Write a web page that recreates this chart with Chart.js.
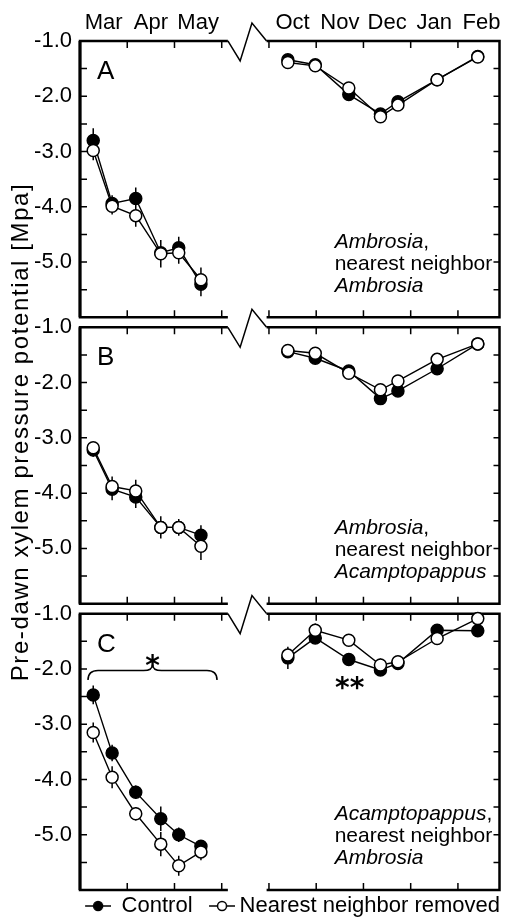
<!DOCTYPE html>
<html>
<head>
<meta charset="utf-8">
<script src="https://cdn.jsdelivr.net/npm/chart.js@4.4.0/dist/chart.umd.min.js"></script>
<style>
  html, body { margin: 0; padding: 0; background: #fff; }
</style>
</head>
<body>
<canvas id="xylemChart" width="507" height="920"></canvas>
<script>
// -------------------- Data --------------------
// sampling dates, months after 1 Mar (spring) and after 1 Oct (winter)
const springMonths = [0.28, 0.68, 1.18, 1.71, 2.09, 2.56];
const winterMonths = [0.40, 0.98, 1.69, 2.36, 2.73, 3.56, 4.42];

const monthLabels = ['Mar', 'Apr', 'May', 'Oct', 'Nov', 'Dec', 'Jan', 'Feb'];
const monthCenters = [0.5, 1.5, 2.5, 4.5, 5.5, 6.5, 7.5, 8.5];
const monthStarts = [1, 2, 3, 4, 5, 6, 7, 8];
const yTickValues = [-6, -5.5, -5, -4.5, -4, -3.5, -3, -2.5, -2, -1.5, -1];

const panelLetters = ['A', 'B', 'C'];
const panelSpecies = ['Ambrosia', 'Ambrosia', 'Acamptopappus'];
const neighborSpecies = ['Ambrosia', 'Acamptopappus', 'Ambrosia'];

// Panel A
const aControlSpring = [-2.80, -3.94, -3.85, -4.83, -4.74, -5.40];
const aRemovedSpring = [-2.98, -3.99, -4.16, -4.85, -4.83, -5.32];
const aControlWinter = [-1.34, -1.43, -1.97, -2.32, -2.10, -1.70, -1.28];
const aRemovedWinter = [-1.39, -1.45, -1.85, -2.37, -2.16, -1.70, -1.29];
const aControlSpringSe = [0.22, 0.15, 0.20, 0.22, 0.20, 0.22];
const aRemovedSpringSe = [0.18, 0.15, 0.20, 0.25, 0.20, 0.22];
const aControlWinterSe = [0.05, 0.05, 0.06, 0.06, 0.06, 0.05, 0.05];
const aRemovedWinterSe = [0.05, 0.05, 0.06, 0.06, 0.06, 0.05, 0.05];

// Panel B
const bControlSpring = [-3.22, -3.93, -4.07, -4.62, -4.62, -4.76];
const bRemovedSpring = [-3.18, -3.88, -3.96, -4.62, -4.62, -4.96];
const bControlWinter = [-1.44, -1.56, -1.79, -2.29, -2.15, -1.75, -1.30];
const bRemovedWinter = [-1.42, -1.47, -1.83, -2.13, -1.97, -1.58, -1.30];
const bControlSpringSe = [0.12, 0.20, 0.20, 0.20, 0.15, 0.18];
const bRemovedSpringSe = [0.10, 0.18, 0.20, 0.20, 0.15, 0.25];
const bControlWinterSe = [0.05, 0.05, 0.05, 0.06, 0.06, 0.06, 0.05];
const bRemovedWinterSe = [0.05, 0.05, 0.05, 0.06, 0.06, 0.06, 0.05];

// Panel C
const cControlSpring = [-2.47, -3.52, -4.23, -4.71, -5.00, -5.21];
const cRemovedSpring = [-3.15, -3.96, -4.62, -5.17, -5.56, -5.31];
const cControlWinter = [-1.80, -1.44, -1.83, -2.02, -1.90, -1.30, -1.31];
const cRemovedWinter = [-1.75, -1.30, -1.48, -1.93, -1.87, -1.45, -1.09];
const cControlSpringSe = [0.17, 0.15, 0.12, 0.22, 0.13, 0.10];
const cRemovedSpringSe = [0.18, 0.20, 0.12, 0.22, 0.18, 0.15];
const cControlWinterSe = [0.20, 0.10, 0.06, 0.08, 0.06, 0.06, 0.08];
const cRemovedWinterSe = [0.15, 0.12, 0.06, 0.12, 0.06, 0.06, 0.06];

const yTitle = 'Pre-dawn xylem pressure potential [Mpa]';

// -------------------- Helpers --------------------
const FONT = "'Liberation Sans', Arial, Helvetica, sans-serif";
const WINTER_SHIFT = 4;   // 1 Oct sits 4 months right of 1 Mar on the broken axis
const X_MAX = 8.88;
const panelIds = ['yA', 'yB', 'yC'];

Chart.defaults.font.family = FONT;
Chart.defaults.color = '#000';

function toPoints(spring, winter) {
  return spring.map((v, i) => ({ x: springMonths[i], y: v }))
    .concat([{ x: 3.5, y: null }])
    .concat(winter.map((v, i) => ({ x: WINTER_SHIFT + winterMonths[i], y: v })));
}

function series(label, axis, filled, spring, winter, seSpring, seWinter) {
  return {
    label,
    xAxisID: 'x',
    yAxisID: axis,
    data: toPoints(spring, winter),
    err: seSpring.concat([null], seWinter),
    borderColor: '#000',
    borderWidth: 1.4,
    pointRadius: 6,
    pointHoverRadius: 6,
    pointBorderWidth: 1.5,
    pointBorderColor: '#000',
    pointBackgroundColor: filled ? '#000' : '#fff',
    spanGaps: false,
    tension: 0,
    order: filled ? 1 : 0
  };
}

function yAxis() {
  return {
    type: 'linear',
    position: 'left',
    stack: 'panels',
    stackWeight: 1,
    min: -6.09,
    max: -0.91,
    grid: { display: false, drawTicks: false },
    border: { display: false },
    afterBuildTicks: s => { s.ticks = yTickValues.map(v => ({ value: v })); },
    afterFit: s => { s.width = 80; },
    ticks: {
      padding: 8,
      font: { size: 22 },
      color: '#000',
      callback: v => (Number.isInteger(v) && v > -6) ? v.toFixed(1) : ''
    }
  };
}

function legendSymbol(filled, shift) {
  const c = document.createElement('canvas');
  c.width = 26 + 2 * shift;
  c.height = 14;
  const g = c.getContext('2d');
  const cx = c.width / 2 + shift;
  g.strokeStyle = '#000';
  g.lineWidth = 1.5;
  g.beginPath(); g.moveTo(cx - 13, 7); g.lineTo(cx + 13, 7); g.stroke();
  g.beginPath(); g.arc(cx, 7, 4.5, 0, Math.PI * 2);
  g.fillStyle = filled ? '#000' : '#fff';
  g.fill(); g.stroke();
  return c;
}

// -------------------- Frames, ticks, error bars --------------------
const panelFrames = {
  id: 'panelFrames',
  beforeDatasetsDraw(chart) {
    const { ctx } = chart;
    const x = chart.scales.x;
    const left = x.getPixelForValue(0), right = x.getPixelForValue(X_MAX);
    const bL = x.getPixelForValue(3.13), bR = x.getPixelForValue(3.95);
    const z1 = x.getPixelForValue(3.39), z2 = x.getPixelForValue(3.64);
    ctx.save();
    ctx.strokeStyle = '#000';
    ctx.lineJoin = 'miter';

    panelIds.forEach(id => {
      const y = chart.scales[id];
      const top = y.getPixelForValue(-1), bot = y.getPixelForValue(-6);

      ctx.lineWidth = 2.5;
      ctx.beginPath();
      ctx.moveTo(bL, top); ctx.lineTo(left, top); ctx.lineTo(left, bot); ctx.lineTo(bL, bot);
      ctx.moveTo(bR, bot); ctx.lineTo(right, bot); ctx.lineTo(right, top); ctx.lineTo(bR, top);
      ctx.stroke();

      ctx.lineWidth = 3;
      ctx.beginPath(); ctx.moveTo(left, top); ctx.lineTo(left, bot); ctx.stroke();

      // axis break
      ctx.lineWidth = 1.5;
      ctx.beginPath();
      ctx.moveTo(bL, top); ctx.lineTo(z1, top + 20); ctx.lineTo(z2, top - 18); ctx.lineTo(bR, top);
      ctx.stroke();

      // inward ticks
      ctx.beginPath();
      yTickValues.forEach(v => {
        if (v === -1 || v === -6) return;
        const py = y.getPixelForValue(v);
        ctx.moveTo(left, py); ctx.lineTo(left + 7, py);
        ctx.moveTo(right, py); ctx.lineTo(right - 6, py);
      });
      monthStarts.forEach(v => {
        const px = x.getPixelForValue(v);
        ctx.moveTo(px, top); ctx.lineTo(px, top + 7);
        ctx.moveTo(px, bot); ctx.lineTo(px, bot - 7);
      });
      ctx.stroke();
    });

    // error bars
    ctx.lineWidth = 1.5;
    ctx.beginPath();
    chart.data.datasets.forEach(ds => {
      const y = chart.scales[ds.yAxisID];
      ds.data.forEach((p, j) => {
        if (p.y == null || !ds.err[j]) return;
        const px = x.getPixelForValue(p.x);
        ctx.moveTo(px, y.getPixelForValue(p.y + ds.err[j]));
        ctx.lineTo(px, y.getPixelForValue(p.y - ds.err[j]));
      });
    });
    ctx.stroke();
    ctx.restore();
  }
};

// -------------------- Letters, notes, brace, title --------------------
const panelNotes = {
  id: 'panelNotes',
  afterDatasetsDraw(chart) {
    const { ctx } = chart;
    const x = chart.scales.x;
    ctx.save();
    ctx.fillStyle = '#000';
    ctx.strokeStyle = '#000';

    panelIds.forEach((id, k) => {
      const top = chart.scales[id].getPixelForValue(-1);
      ctx.textAlign = 'left';
      ctx.textBaseline = 'alphabetic';
      ctx.font = `26px ${FONT}`;
      ctx.fillText(panelLetters[k], x.getPixelForValue(0.36), top + 38);

      const nx = x.getPixelForValue(5.39);
      ctx.textBaseline = 'middle';
      ctx.font = `italic 21px ${FONT}`;
      ctx.fillText(panelSpecies[k], nx, top + 201);
      const w = ctx.measureText(panelSpecies[k]).width;
      ctx.font = `21px ${FONT}`;
      ctx.fillText(',', nx + w, top + 201);
      ctx.fillText('nearest neighbor', nx, top + 223);
      ctx.font = `italic 21px ${FONT}`;
      ctx.fillText(neighborSpecies[k], nx, top + 245);
    });

    // brace over the spring dates of panel C
    const yc = chart.scales.yC;
    const xs = x.getPixelForValue(0.17), xe = x.getPixelForValue(2.9), xm = (xs + xe) / 2;
    const yEnd = yc.getPixelForValue(-2.2), yLine = yc.getPixelForValue(-2.03), yPeak = yc.getPixelForValue(-1.92);
    ctx.lineWidth = 1.5;
    ctx.beginPath();
    ctx.moveTo(xs, yEnd);
    ctx.quadraticCurveTo(xs, yLine, xs + 10, yLine);
    ctx.lineTo(xm - 9, yLine);
    ctx.quadraticCurveTo(xm, yLine, xm, yPeak);
    ctx.quadraticCurveTo(xm, yLine, xm + 9, yLine);
    ctx.lineTo(xe - 10, yLine);
    ctx.quadraticCurveTo(xe, yLine, xe, yEnd);
    ctx.stroke();

    ctx.font = "bold 28px 'DejaVu Sans', sans-serif";
    ctx.textAlign = 'center';
    ctx.textBaseline = 'alphabetic';
    ctx.fillText('*', xm, yc.getPixelForValue(-1.80) + 17);
    ctx.fillText('**', x.getPixelForValue(5.71), yc.getPixelForValue(-2.20) + 17);

    // shared y title
    ctx.translate(28, 432);
    ctx.rotate(-Math.PI / 2);
    ctx.font = `24px ${FONT}`;
    ctx.letterSpacing = '1.6px';
    ctx.fillText(yTitle, 0, 0);
    ctx.restore();
  }
};

// -------------------- Chart --------------------
const ctx = document.getElementById('xylemChart').getContext('2d');
const chart = new Chart(ctx, {
  type: 'line',
  data: {
    datasets: [
      series('Control', 'yA', true, aControlSpring, aControlWinter, aControlSpringSe, aControlWinterSe),
      series('Nearest neighbor removed', 'yA', false, aRemovedSpring, aRemovedWinter, aRemovedSpringSe, aRemovedWinterSe),
      series('Control', 'yB', true, bControlSpring, bControlWinter, bControlSpringSe, bControlWinterSe),
      series('Nearest neighbor removed', 'yB', false, bRemovedSpring, bRemovedWinter, bRemovedSpringSe, bRemovedWinterSe),
      series('Control', 'yC', true, cControlSpring, cControlWinter, cControlSpringSe, cControlWinterSe),
      series('Nearest neighbor removed', 'yC', false, cRemovedSpring, cRemovedWinter, cRemovedSpringSe, cRemovedWinterSe)
    ]
  },
  options: {
    responsive: false,
    animation: false,
    devicePixelRatio: 1,
    events: [],
    layout: { padding: { top: 0, right: 7, bottom: 0, left: 0 } },
    scales: {
      x: { type: 'linear', min: 0, max: X_MAX, display: false },
      x2: {
        type: 'linear',
        position: 'top',
        min: 0,
        max: X_MAX,
        grid: { display: false, drawTicks: false },
        border: { display: false },
        afterBuildTicks: s => { s.ticks = monthCenters.map(v => ({ value: v })); },
        afterFit: s => { s.height = 36; },
        ticks: {
          autoSkip: false,
          maxRotation: 0,
          padding: 0,
          font: { size: 22 },
          color: '#000',
          callback: (v, i) => monthLabels[i]
        }
      },
      // stacked bottom to top: last one ends up on top
      yC: yAxis(),
      yB: yAxis(),
      yA: yAxis()
    },
    plugins: {
      tooltip: { enabled: false },
      legend: {
        position: 'bottom',
        align: 'end',
        maxHeight: 25,
        labels: {
          usePointStyle: true,
          pointStyleWidth: 36,
          padding: 0,
          font: { size: 22 },
          color: '#000',
          generateLabels: () => [
            { text: 'Control', pointStyle: legendSymbol(true, 5.5), fillStyle: '#000', strokeStyle: '#000', lineWidth: 0, hidden: false, fontColor: '#000' },
            { text: 'Nearest neighbor removed', pointStyle: legendSymbol(false, 11.5), fillStyle: '#fff', strokeStyle: '#000', lineWidth: 0, hidden: false, fontColor: '#000' }
          ]
        }
      }
    }
  },
  plugins: [panelFrames, panelNotes]
});
</script>
</body>
</html>
